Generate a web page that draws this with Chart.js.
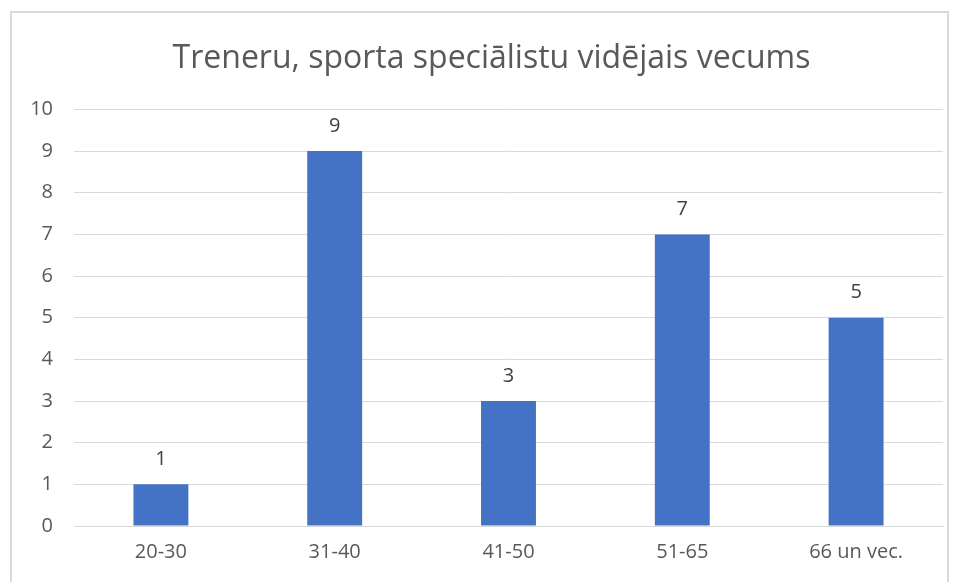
<!DOCTYPE html>
<html>
<head>
<meta charset="utf-8">
<script src="https://cdn.jsdelivr.net/npm/chart.js@4/dist/chart.umd.min.js"></script>
<style>
  html, body { margin: 0; padding: 0; background: #fff; }
  #wrap { position: relative; width: 958px; height: 582px; overflow: hidden; }
  #frame { position: absolute; left: 10px; top: 11px; width: 939px; height: 600px; border: 2px solid #d9d9d9; box-sizing: border-box; }
  canvas { position: absolute; left: 0; top: 0; }
</style>
</head>
<body>
<div id="wrap">
  <div id="frame"></div>
  <canvas id="c" width="958" height="582"></canvas>
</div>
<script>
const titleText = 'Treneru, sporta speciālistu vidējais vecums';
const categories = ['20-30', '31-40', '41-50', '51-65', '66 un vec.'];
const values = [1, 9, 3, 7, 5];
const yTicks = [0, 1, 2, 3, 4, 5, 6, 7, 8, 9, 10];

const FONT = '"Open Sans", "Liberation Sans", sans-serif';

const dataLabels = {
  id: 'dataLabels',
  afterDatasetsDraw(chart) {
    const ctx = chart.ctx;
    const meta = chart.getDatasetMeta(0);
    ctx.save();
    ctx.font = '20px ' + FONT;
    ctx.fillStyle = '#404040';
    ctx.textAlign = 'center';
    ctx.textBaseline = 'middle';
    meta.data.forEach((bar, i) => {
      ctx.fillText(String(values[i]), bar.x, bar.y - 25);
    });
    ctx.restore();
  }
};

const shiftTitle = {
  id: 'shiftTitle',
  afterLayout(chart) {
    const t = chart.titleBlock;
    if (t) { t.left += 20; t.right += 20; }
  }
};

new Chart(document.getElementById('c'), {
  type: 'bar',
  data: {
    labels: categories,
    datasets: [{
      data: values,
      backgroundColor: '#4472C4',
      borderWidth: 0,
      categoryPercentage: 1,
      barPercentage: 0.316
    }]
  },
  options: {
    responsive: false,
    animation: false,
    devicePixelRatio: 1,
    layout: { padding: { left: 0, right: 15, top: 0, bottom: 0 } },
    plugins: {
      legend: { display: false },
      tooltip: { enabled: false },
      title: {
        display: true,
        text: titleText,
        color: '#595959',
        font: { family: FONT, size: 32, weight: 'normal' },
        padding: { top: 40, bottom: 31 }
      }
    },
    scales: {
      x: {
        grid: { display: false, drawTicks: false },
        border: { display: true, color: '#d9d9d9', width: 1 },
        ticks: { color: '#595959', font: { family: FONT, size: 20 }, padding: 14, maxRotation: 0 },
        afterFit(s) { s.height = 56; }
      },
      y: {
        min: 0, max: 10,
        afterBuildTicks(s) { s.ticks = yTicks.map(v => ({ value: v })); },
        grid: { color: '#d9d9d9', lineWidth: 1, drawTicks: false },
        border: { display: false },
        ticks: { color: '#595959', font: { family: FONT, size: 20 }, padding: 21 },
        afterFit(s) { s.width = 74; }
      }
    }
  },
  plugins: [dataLabels, shiftTitle]
});
</script>
</body>
</html>
